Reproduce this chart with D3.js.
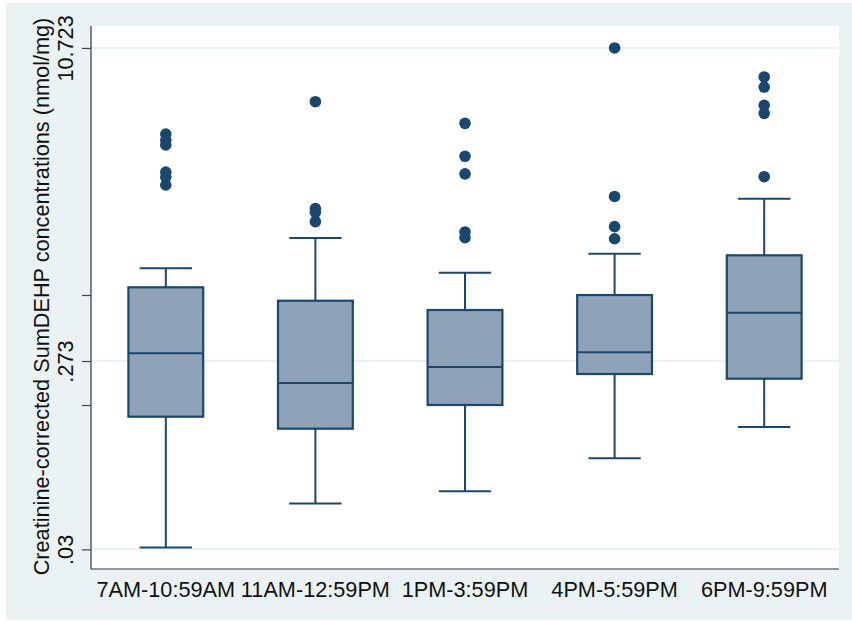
<!DOCTYPE html>
<html>
<head>
<meta charset="utf-8">
<script src="https://cdn.jsdelivr.net/npm/d3@7"></script>
<style>
  html, body { margin: 0; padding: 0; background: #ffffff; }
  svg { display: block; }
  text { font-family: Arial, "Liberation Sans", sans-serif; fill: #111; }
</style>
</head>
<body>
<svg id="chart" width="852" height="623"></svg>
<script>
// Time-of-day collection windows
const categories = ["7AM-10:59AM", "11AM-12:59PM", "1PM-3:59PM", "4PM-5:59PM", "6PM-9:59PM"];

// Box summaries (nmol/mg): lower whisker, Q1, median, Q3, upper whisker
const lowerWhisker = [0.0307, 0.0513, 0.0593, 0.0873, 0.1259];
const q1           = [0.1421, 0.1235, 0.1630, 0.2344, 0.2219];
const median       = [0.2988, 0.2110, 0.2544, 0.3023, 0.4810];
const q3           = [0.6480, 0.5536, 0.4965, 0.5918, 0.9428];
const upperWhisker = [0.8100, 1.1550, 0.7686, 0.9605, 1.8300];

// Outside values per window
const outliers = [
  [3.91, 3.64, 3.44, 2.50, 2.36, 2.15],
  [5.71, 1.63, 1.56, 1.40],
  [4.43, 3.01, 2.45, 1.24, 1.16],
  [10.723, 1.88, 1.32, 1.145],
  [7.63, 6.78, 5.47, 4.98, 2.37]
];

// Axis ticks
const yLabelTicks = [0.03, 0.273, 10.723];
const yLabelText = [".03", ".273", "10.723"];
const yMinorTicks = [0.163, 0.592];
const yDomain = [0.02383, 13.87];

const yTitle = "Creatinine-corrected SumDEHP concentrations (nmol/mg)";

const navy = "#1a476f";
const boxFill = "#8ea3b8";
const bg = "#eaf2f3";
const fontSize = "21.7px";

const svg = d3.select("#chart");

// outer graph region
svg.append("rect").attr("x", 6).attr("y", 3).attr("width", 846).attr("height", 617).attr("fill", bg);

const plot = { left: 91, right: 839, top: 26, bottom: 569 };
svg.append("rect")
  .attr("x", plot.left).attr("y", plot.top)
  .attr("width", plot.right - plot.left).attr("height", plot.bottom - plot.top)
  .attr("fill", "#ffffff");

const x = d3.scaleBand().domain(categories).range([plot.left, plot.right]).padding(0);
const y = d3.scaleLog().domain(yDomain).range([plot.bottom, plot.top]);

// grid lines at labelled ticks
svg.append("g").selectAll("line").data(yLabelTicks).join("line")
  .attr("x1", plot.left).attr("x2", plot.right)
  .attr("y1", d => y(d)).attr("y2", d => y(d))
  .attr("stroke", bg).attr("stroke-width", 2);

// y axis
const yAxis = d3.axisLeft(y).tickValues(yLabelTicks.concat(yMinorTicks))
  .tickSize(9).tickSizeOuter(0)
  .tickFormat(d => { const i = yLabelTicks.indexOf(d); return i >= 0 ? yLabelText[i] : ""; });
const gy = svg.append("g").attr("transform", `translate(${plot.left},0)`).call(yAxis);
gy.select(".domain").attr("stroke", "#333").attr("stroke-width", 1.2)
  .attr("d", `M0,${plot.top}V${plot.bottom}`);
gy.selectAll(".tick line").attr("stroke", "#444").attr("stroke-width", 1.2);
gy.selectAll(".tick text")
  .attr("x", 0).attr("y", 0)
  .attr("transform", "translate(-18,0) rotate(-90)")
  .attr("text-anchor", "middle").attr("dy", 0)
  .style("font-size", fontSize).style("font-family", "Arial, 'Liberation Sans', sans-serif")
  .attr("fill", "#111");

// x axis
const xAxis = d3.axisBottom(x).tickSize(0).tickSizeOuter(0);
const gx = svg.append("g").attr("transform", `translate(0,${plot.bottom})`).call(xAxis);
gx.select(".domain").attr("stroke", "#333").attr("stroke-width", 1.2)
  .attr("d", `M${plot.left},0H${plot.right}`);
gx.selectAll(".tick text")
  .attr("y", 28).attr("dy", 0)
  .style("font-size", fontSize).style("font-family", "Arial, 'Liberation Sans', sans-serif")
  .attr("fill", "#111");

// y title
svg.append("text")
  .attr("transform", `translate(49,${(plot.top + plot.bottom) / 2 - 1}) rotate(-90)`)
  .attr("text-anchor", "middle")
  .style("font-size", fontSize)
  .text(yTitle);

// boxes
const bw = x.bandwidth() * 0.5;
const cw = x.bandwidth() * 0.35;
const rows = categories.map((c, i) => ({
  c, lo: lowerWhisker[i], q1: q1[i], med: median[i], q3: q3[i], hi: upperWhisker[i], out: outliers[i]
}));

const g = svg.append("g").selectAll("g").data(rows).join("g")
  .attr("transform", d => `translate(${x(d.c) + x.bandwidth() / 2},0)`);

// whiskers
g.append("line").attr("x1", 0).attr("x2", 0)
  .attr("y1", d => y(d.q3)).attr("y2", d => y(d.hi))
  .attr("stroke", navy).attr("stroke-width", 2);
g.append("line").attr("x1", 0).attr("x2", 0)
  .attr("y1", d => y(d.q1)).attr("y2", d => y(d.lo))
  .attr("stroke", navy).attr("stroke-width", 2);
g.append("line").attr("x1", -cw / 2).attr("x2", cw / 2)
  .attr("y1", d => y(d.hi)).attr("y2", d => y(d.hi))
  .attr("stroke", navy).attr("stroke-width", 2);
g.append("line").attr("x1", -cw / 2).attr("x2", cw / 2)
  .attr("y1", d => y(d.lo)).attr("y2", d => y(d.lo))
  .attr("stroke", navy).attr("stroke-width", 2);

// box body
g.append("rect")
  .attr("x", -bw / 2).attr("width", bw)
  .attr("y", d => y(d.q3)).attr("height", d => y(d.q1) - y(d.q3))
  .attr("fill", boxFill).attr("stroke", navy).attr("stroke-width", 2.2);
g.append("line").attr("x1", -bw / 2).attr("x2", bw / 2)
  .attr("y1", d => y(d.med)).attr("y2", d => y(d.med))
  .attr("stroke", navy).attr("stroke-width", 2);

// outside values
g.selectAll("circle").data(d => d.out).join("circle")
  .attr("cx", 0).attr("cy", d => y(d)).attr("r", 5.8)
  .attr("fill", navy);
</script>
</body>
</html>
